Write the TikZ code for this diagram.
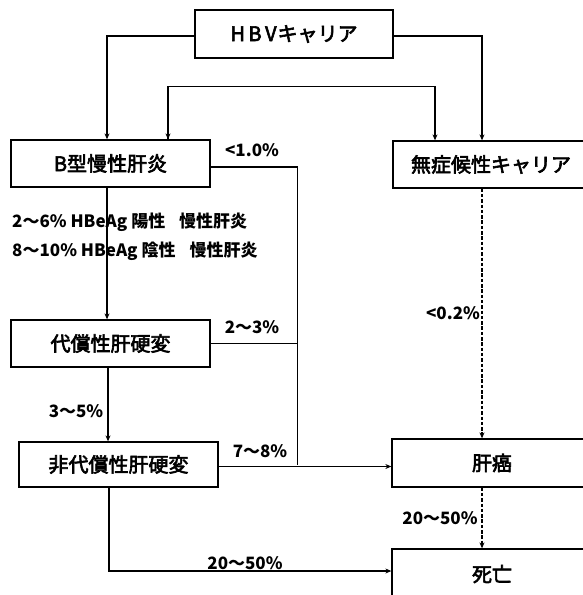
\documentclass[tikz,border=0pt]{standalone}
\usepackage{fontspec}
\setmainfont{Noto Sans CJK JP}
\newfontfamily\boxfont[FakeBold=3]{Noto Sans CJK JP}
\usetikzlibrary{arrows.meta}
\tikzset{
  box/.style={draw, line width=1.3pt, minimum height=47pt, inner sep=0pt, font=\boxfont\fontsize{20}{22}\selectfont},
  conn/.style={line width=1.3pt},
  arr/.style={conn, -{Stealth[length=6pt,width=5pt]}},
  darr/.style={conn, dashed, dash pattern=on 3.5pt off 1.8pt, -{Stealth[length=6pt,width=5pt]}},
  lab/.style={font=\bfseries\fontsize{17}{19}\selectfont, inner sep=0pt},
}
\begin{document}
\begin{tikzpicture}[x=1pt, y=-1pt]
\useasboundingbox (0,0) rectangle (583,595);
\clip (0,0) rectangle (583,595);
\node[box, minimum width=198pt, minimum height=48pt] (hbv) at (294,34) {H\hspace{3.5pt}B\hspace{3.5pt}V\hspace{1pt}キャリア};
\node[box, minimum width=199pt] (b) at (110.5,163.5) {B型慢性肝炎};
\node[box, minimum width=196pt] (asym) at (491,164.5) {無症候性キャリア};
\node[box, minimum width=199pt] (dai) at (110.5,343.5) {代償性肝硬変};
\node[box, minimum width=199pt, minimum height=45pt] (hidai) at (118.5,464.5) {非代償性肝硬変};
\node[box, minimum width=200pt, minimum height=48pt] (kan) at (492,463) {肝癌};
\node[box, minimum width=200pt, minimum height=50pt] (shibo) at (492,574) {死亡};

\coordinate (j) at (297.5,464.5);

% HBV to B and asym
\draw[arr] ([yshift=-2pt]hbv.west) -| ([xshift=-3.5pt]b.north);
\draw[arr] ([yshift=-2pt]hbv.east) -| ([xshift=-9pt]asym.north);
% bidirectional link
\draw[arr] ([xshift=57.5pt]b.north) -- ++(0,-53) coordinate (t1) -| ([xshift=-56pt]asym.north);
\draw[arr] (t1) -- ([xshift=57.5pt]b.north);
% right branch
\draw[conn] ([yshift=-3.5pt]b.east) -| (j);
\draw[conn] (dai.east) -- (dai.east -| j);
\draw[arr] ([yshift=-2pt]hidai.east) -- ([yshift=-2pt]hidai.east -| kan.west);
% main chain
\draw[arr] ([xshift=-3.5pt]b.south) -- ([xshift=-3.5pt]dai.north);
\draw[arr] ([xshift=-2.5pt]dai.south) -- ([xshift=-2.5pt]dai.south |- hidai.north);
\draw[arr] ([xshift=-9.5pt]hidai.south) |- ([yshift=3pt]shibo.west);
% dashed
\draw[darr] ([xshift=-9pt]asym.south) -- ([xshift=-9pt]asym.south |- kan.north);
\draw[darr] ([xshift=-10pt]kan.south) -- ([xshift=-10pt]kan.south |- shibo.north);

% labels
\node[lab] (l1) at (252,150) {<1.0\%};
\node[lab, anchor=west] (l2) at (12,222) {2〜6\% HBeAg 陽性\hspace{14pt}慢性肝炎};
\node[lab, anchor=west] (l3) at (12,251) {8〜10\% HBeAg 陰性\hspace{14pt}慢性肝炎};
\node[lab] (l4) at (252,327) {2〜3\%};
\node[lab] (l5) at (76,411) {3〜5\%};
\node[lab] (l6) at (260,451) {7〜8\%};
\node[lab] (l7) at (453,313) {<0.2\%};
\node[lab] (l8) at (440,518) {20〜50\%};
\node[lab] (l9) at (245,563) {20〜50\%};
\end{tikzpicture}
\end{document}
